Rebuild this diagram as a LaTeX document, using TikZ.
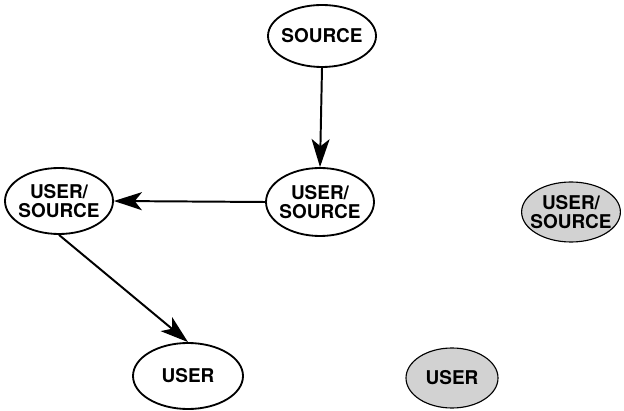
\documentclass[tikz,border=0pt]{standalone}
\usepackage{fontspec}
\setmainfont{TeX Gyre Heros}
\usepackage{tikz}
\usetikzlibrary{arrows.meta, shapes.geometric}

\begin{document}
\begin{tikzpicture}[
    party/.style={ellipse, draw, line width=1.3pt, inner sep=-4pt, align=center,
                  font=\bfseries\fontsize{13.5}{13}\selectfont},
    idle/.style={party, line width=0.8pt, fill=gray!35},
    flow/.style={-{Stealth[length=0.7cm, width=0.45cm, inset=0.18cm]}, line width=1.4pt}
  ]
                      \useasboundingbox (0, 0) rectangle (15.6, 10.25);

                      \node[party, minimum width=2.7cm, minimum height=1.55cm] (src) at (8.05, 9.35) {SOURCE};
                      \node[party, minimum width=2.7cm, minimum height=1.7cm] (mid) at (8.0, 5.2) {USER/\\SOURCE};
                      \node[party, minimum width=2.7cm, minimum height=1.65cm] (left) at (1.475, 5.225) {USER/\\SOURCE};
                      \node[party, minimum width=2.75cm, minimum height=1.65cm] (user) at (4.7, 0.85) {USER};

                      \node[idle, minimum width=2.3cm, minimum height=1.5cm] (idlesrc) at (14.275, 4.95) {USER/\\SOURCE};
                      \node[idle, minimum width=2.3cm, minimum height=1.5cm] (idleuser) at (11.3, 0.8) {USER};

                      \draw[flow] (src.south) -- (mid.north);
                      \draw[flow] (mid.west) -- (left.east);
                      \draw[flow] (left.south) -- (user.north);
                  \end{tikzpicture}
\end{document}
